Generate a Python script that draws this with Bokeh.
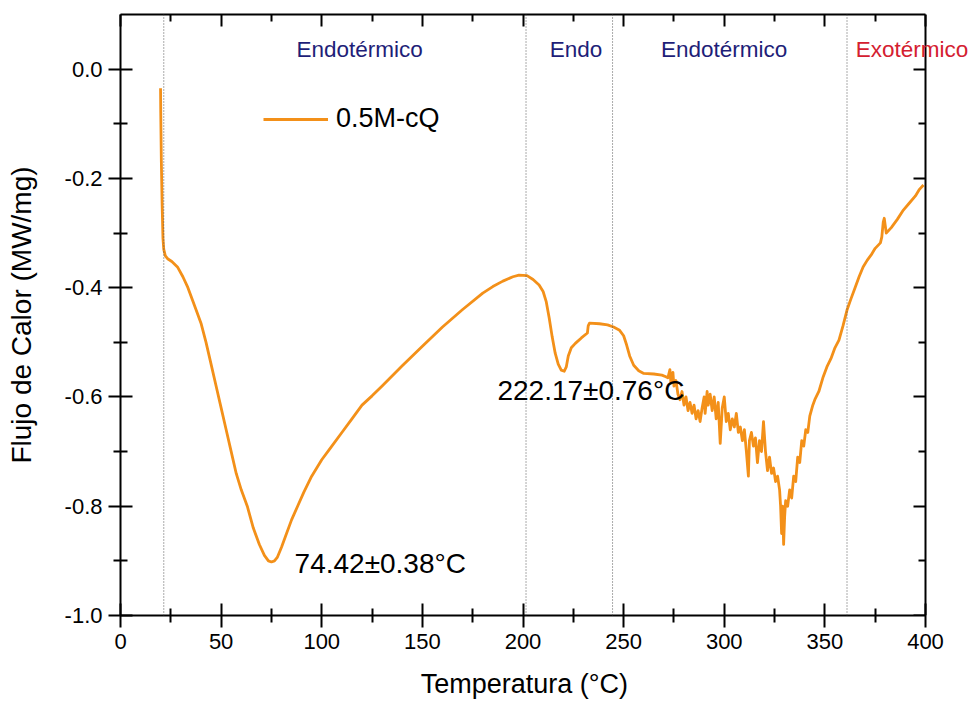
from bokeh.plotting import figure
from bokeh.models import (LinearAxis, FixedTicker, PrintfTickFormatter, Span, Label,
                          Legend, LegendItem, ColumnDataSource, CustomJSTickFormatter, Range1d)
from bokeh.embed import file_html
from bokeh.resources import INLINE

# ---------------- data ----------------
temperature = [
    19.9, 20.0, 20.3, 20.7, 21.1, 21.5, 22.3, 23.4, 25.5, 28.3, 31, 33.5, 35.8, 38, 40, 42.5,
    45, 47.5, 50, 52.5, 55, 57.5, 60, 63, 66, 69, 71.5, 73.5, 75, 76.5, 78, 80, 82, 85, 88, 91,
    95, 100, 104, 110, 115, 120, 125, 130, 140, 150, 160, 170, 180, 185, 190, 195, 198, 202,
    205, 208, 210, 211.5, 213, 214.5, 216, 217.5, 219, 220.5, 221.5, 222.5, 224, 226, 229,
    232, 232.4, 233, 238, 242, 245, 248, 250, 251.5, 253, 255, 257.5, 260, 265, 269, 271,
    272, 273, 273.5, 274.5, 275, 276, 277, 278, 279, 280, 281, 282, 283, 284, 285, 286, 287,
    288, 289, 290, 290.5, 291.5, 292, 293, 294, 295, 296, 297, 298, 299, 300, 301, 302, 303,
    304, 305, 306, 307, 308, 309, 310, 311, 312, 312.5, 313.5, 314.5, 315.5, 316.5, 317.5,
    318.5, 319.5, 320.5, 321.5, 322.5, 323.5, 324.5, 325.5, 326.5, 327.5, 328, 328.5, 329,
    329.5, 330, 330.5, 331.5, 332.5, 333.5, 334.5, 335.5, 336.5, 337.5, 338.5, 339.5, 340.5,
    341.5, 342.5, 344, 345, 347, 349, 351, 353, 355, 357, 359, 361, 363, 365, 367, 369, 371,
    373, 375, 377.6, 378.3, 379, 379.5, 380.5, 383, 386, 389, 392, 395, 397, 399,
]
heat_flow = [
    -0.035, -0.08, -0.17, -0.25, -0.31, -0.33, -0.342, -0.347, -0.352, -0.362, -0.38, -0.40,
    -0.423, -0.445, -0.465, -0.50, -0.54, -0.58, -0.62, -0.66, -0.70, -0.74, -0.77, -0.80,
    -0.84, -0.87, -0.89, -0.90, -0.902, -0.90, -0.893, -0.875, -0.855, -0.825, -0.80, -0.775,
    -0.745, -0.715, -0.695, -0.665, -0.64, -0.615, -0.598, -0.58, -0.543, -0.507, -0.472,
    -0.44, -0.41, -0.398, -0.388, -0.38, -0.377, -0.378, -0.385, -0.395, -0.407, -0.425,
    -0.455, -0.49, -0.52, -0.54, -0.551, -0.553, -0.545, -0.525, -0.51, -0.502, -0.492,
    -0.483, -0.47, -0.465, -0.466, -0.468, -0.472, -0.478, -0.488, -0.505, -0.525, -0.542,
    -0.552, -0.557, -0.558, -0.56, -0.563,
    -0.565, -0.55, -0.575, -0.555, -0.58, -0.57, -0.595, -0.605, -0.59, -0.615, -0.60, -0.625,
    -0.61, -0.63, -0.615, -0.64, -0.625, -0.645, -0.62, -0.60, -0.63, -0.59, -0.615, -0.595,
    -0.625, -0.60, -0.64, -0.61, -0.685, -0.62, -0.60, -0.645, -0.63, -0.66, -0.64, -0.655,
    -0.63, -0.665, -0.655, -0.68, -0.66, -0.70, -0.745, -0.68, -0.665, -0.69, -0.675, -0.72,
    -0.68, -0.70, -0.645, -0.70, -0.735, -0.71, -0.74, -0.73, -0.755, -0.745, -0.77, -0.80,
    -0.85, -0.80, -0.87, -0.82, -0.79, -0.80, -0.77, -0.785, -0.745, -0.755, -0.71, -0.72,
    -0.68, -0.69, -0.66, -0.665, -0.635, -0.615, -0.605, -0.59, -0.565, -0.545, -0.53, -0.51,
    -0.496, -0.47, -0.441, -0.42, -0.40, -0.38, -0.362, -0.35, -0.34, -0.328, -0.318, -0.307,
    -0.28, -0.273, -0.30, -0.29, -0.275, -0.258, -0.245, -0.232, -0.22, -0.212, -0.203,
]

x_ticks = [0, 50, 100, 150, 200, 250, 300, 350, 400]
x_minor = [25, 75, 125, 175, 225, 275, 325, 375]
y_ticks = [-1.0, -0.8, -0.6, -0.4, -0.2, 0.0]
y_minor = [-0.9, -0.7, -0.5, -0.3, -0.1]

boundaries = [21.5, 201.5, 244.5, 361.0]
region_names = ["Endotérmico", "Endo", "Endotérmico", "Exotérmico"]
region_centers = [118.8, 226.3, 299.9, 393.3]
region_kinds = ["endo", "endo", "endo", "exo"]

peak_texts = ["74.42±0.38°C", "222.17±0.76°C"]
series_name = "0.5M-cQ"
x_title = "Temperatura (°C)"
y_title = "Flujo de Calor (MW/mg)"

# ---------------- figure ----------------
FONT = "Liberation Sans"
X0, X1, Y0, Y1 = 0, 400, -1.0, 0.1
LEFT_PX, AXIS_W_PX = 120, 805          # frame starts at 120px; 0..400 spans 805px
frame_w = 972 - LEFT_PX                 # frame extends to the window edge so text can overflow
x_end = X0 + (X1 - X0) * frame_w / AXIS_W_PX

p = figure(width=972, height=702, x_range=Range1d(X0, x_end), y_range=Range1d(Y0, Y1),
           output_backend="svg", toolbar_location=None,
           min_border_left=LEFT_PX, min_border_right=0, min_border_top=14, min_border_bottom=87)
p.background_fill_color = "white"
p.border_fill_color = "white"
p.outline_line_color = None
p.xgrid.visible = False
p.ygrid.visible = False

def style_axis(ax, ticks, minor, bounds, labels=True, out=True):
    ax.ticker = FixedTicker(ticks=ticks, minor_ticks=minor)
    ax.bounds = bounds
    ax.axis_line_width = 2
    ax.axis_line_color = "black"
    ax.major_tick_line_width = 2
    ax.minor_tick_line_width = 2
    ax.major_tick_in = 12
    ax.minor_tick_in = 7
    ax.major_tick_out = 12 if out else 0
    ax.minor_tick_out = 7 if out else 0
    if labels:
        ax.major_label_text_font = FONT
        ax.major_label_text_font_size = "22px"
        ax.major_label_text_color = "black"
        ax.major_label_standoff = 6
    else:
        ax.major_label_text_font_size = "0px"
        ax.major_label_standoff = 0
        ax.formatter = CustomJSTickFormatter(code="return ''")

xa = p.xaxis[0]
style_axis(xa, x_ticks, x_minor, (X0, X1))

ya = p.yaxis[0]
style_axis(ya, y_ticks, y_minor, (Y0, Y1))
ya.formatter = PrintfTickFormatter(format="%.1f")
ya.axis_label = y_title
ya.axis_label_text_font = FONT
ya.axis_label_text_font_size = "28px"
ya.axis_label_text_font_style = "normal"
ya.axis_label_text_color = "black"
ya.axis_label_standoff = 25

top = LinearAxis()
style_axis(top, x_ticks, x_minor, (X0, X1), labels=False, out=False)
p.add_layout(top, "above")
right = LinearAxis(fixed_location=X1)
style_axis(right, y_ticks, y_minor, (Y0, Y1), labels=False, out=False)
p.add_layout(right, "right")

# x-axis title, centred under the 0..400 axis (hosted in the lower panel so it is not clipped)
p.add_layout(Label(x=(X0 + X1) / 2 + 0.7, y=-1.125, text=x_title, text_align="center",
                   text_baseline="middle", text_font=FONT, text_font_size="27px",
                   text_color="black"), "below")

# vertical region boundaries
for b in boundaries:
    p.add_layout(Span(location=b, dimension="height", line_color="#555555",
                      line_width=1, line_dash="1 2"))

src = ColumnDataSource(dict(x=temperature, y=heat_flow))
r = p.line("x", "y", source=src, line_color="#F39019", line_width=2.8, line_join="round")

# region labels
colors = {"endo": "#1E1E78", "exo": "#D42030"}
for name, cx, kind in zip(region_names, region_centers, region_kinds):
    p.add_layout(Label(x=cx, y=0.0366, text=name, text_align="center", text_baseline="middle",
                       text_font=FONT, text_font_size="22.5px", text_color=colors[kind]))

# peak labels
p.add_layout(Label(x=86.5, y=-0.904, text=peak_texts[0], text_baseline="middle",
                   text_font=FONT, text_font_size="28px", text_color="black"))
p.add_layout(Label(x=187.3, y=-0.588, text=peak_texts[1], text_baseline="middle",
                   text_font=FONT, text_font_size="28px", text_color="black"))

legend = Legend(items=[LegendItem(label=series_name, renderers=[r])],
                location=(143, 481), border_line_color=None, background_fill_alpha=0,
                padding=0, margin=0, glyph_width=65, glyph_height=20, label_standoff=8,
                label_text_font=FONT, label_text_font_size="27px", label_text_color="black")
p.add_layout(legend)

open("out.html", "w").write(file_html(p, INLINE))
